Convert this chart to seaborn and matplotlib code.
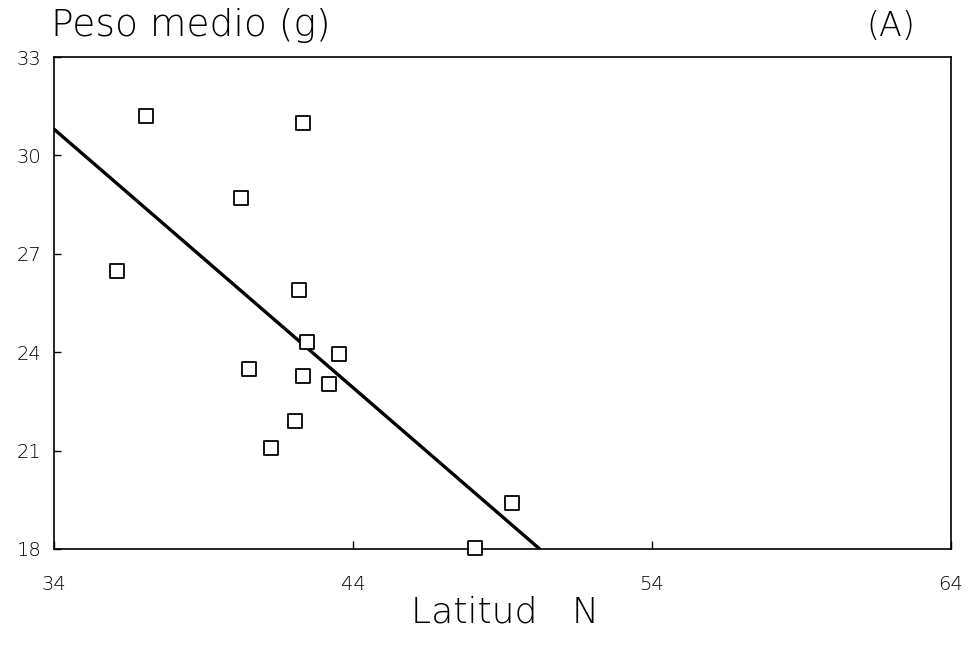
import matplotlib
matplotlib.use("Agg")
import matplotlib.pyplot as plt
import seaborn as sns
import pandas as pd

# Observed sites: latitude (degrees N) and mean weight (g)
latitud = [37.08, 42.33, 40.25, 36.11, 42.19, 42.46, 43.53, 40.52,
           42.33, 43.20, 42.06, 41.26, 49.32, 48.08]
peso = [31.20, 30.99, 28.70, 26.48, 25.90, 24.31, 23.95, 23.49,
        23.27, 23.03, 21.90, 21.08, 19.40, 18.03]

# Fitted regression line end points
recta_lat = [34.0, 50.25]
recta_peso = [30.80, 18.0]

x_ticks = [34, 44, 54, 64]
y_ticks = [18, 21, 24, 27, 30, 33]

sns.set_style("ticks")
plt.rcParams["font.family"] = ["DejaVu Sans"]

df = pd.DataFrame({"latitud": latitud, "peso": peso})
df_recta = pd.DataFrame({"latitud": recta_lat, "peso": recta_peso})

fig = plt.figure(figsize=(9.72, 6.48), dpi=100)
ax = fig.add_axes([0.0556, 0.1528, 0.9224, 0.7592])

sns.lineplot(data=df_recta, x="latitud", y="peso", ax=ax,
             color="black", linewidth=2.4, zorder=2)
sns.scatterplot(data=df, x="latitud", y="peso", ax=ax, marker="s", s=95,
                facecolor="white", edgecolor="black", linewidth=1.3,
                zorder=3, clip_on=False)

ax.set_xlim(34, 64)
ax.set_ylim(18, 33)
ax.set_xticks(x_ticks)
ax.set_yticks(y_ticks)
ax.set_xticklabels([str(t) for t in x_ticks], fontweight="light")
ax.set_yticklabels([str(t) for t in y_ticks], fontweight="light")
ax.tick_params(axis="x", direction="in", length=6, width=1, pad=19,
               labelsize=14, colors="black")
ax.tick_params(axis="y", direction="in", length=5, width=1, pad=9,
               labelsize=14, colors="black")

for sp in ax.spines.values():
    sp.set_visible(True)
    sp.set_color("black")
    sp.set_linewidth(1.2)

ax.set_xlabel("")
ax.set_ylabel("")

fig.text(0.052, 0.945, "Peso medio (g)", fontsize=27, ha="left",
         va="baseline", color="black", fontweight="light")
fig.text(0.942, 0.945, "(A)", fontsize=24, ha="right", va="baseline",
         color="black", fontweight="light")
fig.text(0.52, 0.040, "Latitud   N", fontsize=26, ha="center",
         va="baseline", color="black", fontweight="light")

fig.savefig("out.png", dpi=100, facecolor="white")
